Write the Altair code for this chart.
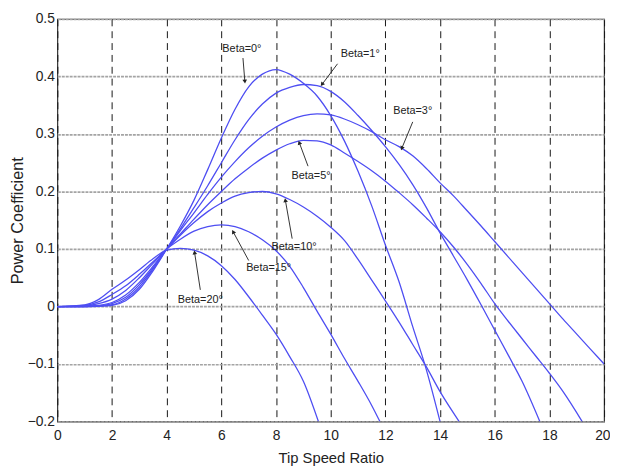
import math
import altair as alt
import pandas as pd

# ---- curve data (Tip Speed Ratio -> Power Coefficient) ----
x_b0 = [0, 1, 1.5, 2, 2.5, 3, 3.5, 4, 4.5, 5, 5.5, 6, 6.5, 7, 7.5, 8, 8.5, 9, 9.5, 10,
        10.5, 11, 11.5, 12, 12.5, 13, 13.5, 14]
y_b0 = [0, 0, 0.0005, 0.002, 0.01, 0.03, 0.062, 0.1, 0.14, 0.185, 0.238, 0.293, 0.343, 0.382,
        0.404, 0.412, 0.404, 0.388, 0.366, 0.332, 0.288, 0.235, 0.175, 0.107, 0.043, -0.035,
        -0.11, -0.2]

x_b1 = [0, 1, 1.5, 2, 2.5, 3, 3.5, 4, 4.5, 5, 5.5, 6, 6.5, 7, 7.5, 8, 8.5, 9, 9.5, 10,
        10.5, 11, 11.5, 12, 12.5, 13, 13.5, 14, 14.5, 15, 15.5, 16, 16.5, 17, 17.65]
y_b1 = [0, 0, 0.001, 0.003, 0.013, 0.034, 0.065, 0.1, 0.135, 0.172, 0.21, 0.25, 0.29, 0.325,
        0.352, 0.371, 0.381, 0.386, 0.384, 0.374, 0.356, 0.332, 0.306, 0.278, 0.247, 0.212,
        0.172, 0.128, 0.087, 0.046, 0.003, -0.041, -0.085, -0.13, -0.2]

x_b3 = [0, 1, 1.5, 2, 2.5, 3, 3.5, 4, 4.5, 5, 5.5, 6, 6.5, 7, 7.5, 8, 8.5, 9, 9.5, 10,
        10.5, 11, 11.5, 12, 12.5, 13, 13.5, 14, 14.5, 15, 15.5, 16, 16.5, 17, 17.5, 18,
        18.5, 19, 19.5, 20]
y_b3 = [0, 0, 0.001, 0.005, 0.016, 0.038, 0.067, 0.1, 0.132, 0.163, 0.195, 0.225, 0.252,
        0.276, 0.296, 0.312, 0.324, 0.332, 0.335, 0.333, 0.326, 0.316, 0.304, 0.29, 0.278,
        0.262, 0.24, 0.215, 0.192, 0.166, 0.14, 0.113, 0.086, 0.059, 0.032, 0.005, -0.022,
        -0.048, -0.074, -0.1]

x_b5 = [0, 1, 1.5, 2, 2.5, 3, 3.5, 4, 4.5, 5, 5.5, 6, 6.5, 7, 7.5, 8, 8.5, 9, 9.5, 10,
        10.5, 11, 11.5, 12, 12.5, 13, 13.5, 14, 14.5, 15, 15.5, 16, 16.5, 17, 17.5, 18,
        18.5, 19.2]
y_b5 = [0, 0.0005, 0.002, 0.007, 0.02, 0.042, 0.07, 0.1, 0.126, 0.152, 0.177, 0.2, 0.222,
        0.241, 0.258, 0.272, 0.283, 0.289, 0.288, 0.281, 0.267, 0.252, 0.236, 0.218, 0.198,
        0.177, 0.154, 0.13, 0.103, 0.073, 0.04, 0.005, -0.026, -0.056, -0.086, -0.116,
        -0.148, -0.2]

x_b10 = [0, 1, 1.5, 2, 2.5, 3, 3.5, 4, 4.5, 5, 5.5, 6, 6.5, 7, 7.5, 8, 8.5, 9, 9.5, 10,
         10.5, 11, 11.5, 12, 12.5, 13, 13.5, 14, 14.7]
y_b10 = [0, 0.001, 0.005, 0.013, 0.028, 0.05, 0.075, 0.1, 0.124, 0.146, 0.165, 0.18, 0.192,
         0.198, 0.2, 0.196, 0.186, 0.173, 0.157, 0.138, 0.115, 0.082, 0.046, 0.01, -0.027,
         -0.066, -0.105, -0.148, -0.2]

x_b15 = [0, 1, 1.5, 2, 2.5, 3, 3.5, 4, 4.5, 5, 5.5, 6, 6.5, 7, 7.5, 8, 8.5, 9, 9.5, 10,
         10.5, 11, 11.5, 11.8]
y_b15 = [0, 0.002, 0.008, 0.021, 0.036, 0.056, 0.078, 0.1, 0.117, 0.131, 0.139, 0.142,
         0.139, 0.13, 0.116, 0.097, 0.07, 0.033, -0.008, -0.048, -0.09, -0.13, -0.172, -0.2]

x_b20 = [0, 1, 1.5, 2, 2.5, 3, 3.5, 4, 4.5, 5, 5.5, 6, 6.5, 7, 7.5, 8, 8.5, 9, 9.55]
y_b20 = [0, 0.003, 0.012, 0.03, 0.046, 0.064, 0.083, 0.098, 0.101, 0.098, 0.088, 0.071,
         0.047, 0.017, -0.015, -0.048, -0.087, -0.13, -0.2]

betas = ["0", "1", "3", "5", "10", "15", "20"]
curves = [(x_b0, y_b0), (x_b1, y_b1), (x_b3, y_b3), (x_b5, y_b5),
          (x_b10, y_b10), (x_b15, y_b15), (x_b20, y_b20)]

# ---- annotations ----
ann_labels = ["Beta=0°", "Beta=1°", "Beta=3°", "Beta=5°", "Beta=10°", "Beta=15°", "Beta=20°"]
ann_text_x = [6.75, 11.08, 13.0, 9.28, 8.66, 7.73, 5.23]
ann_text_y = [0.448, 0.439, 0.340, 0.227, 0.103, 0.067, 0.012]
ann_from_x = [6.79, 10.25, 13.0, 9.17, 8.59, 7.0, 5.23]
ann_from_y = [0.432, 0.422, 0.321, 0.244, 0.118, 0.080, 0.029]
ann_to_x = [6.86, 9.68, 12.6, 8.85, 8.34, 6.43, 5.02]
ann_to_y = [0.391, 0.386, 0.275, 0.285, 0.185, 0.130, 0.094]

x_ticks = [0, 2, 4, 6, 8, 10, 12, 14, 16, 18, 20]
y_ticks = [-0.2, -0.1, 0, 0.1, 0.2, 0.3, 0.4, 0.5]

W, H = 554, 408
X_DOM = [0, 20]
Y_DOM = [-0.2, 0.5]
FONT = "Liberation Sans"

rows = []
for b, (xs_, ys_) in zip(betas, curves):
    for xv, yv in zip(xs_, ys_):
        rows.append({"beta": b, "x": xv, "y": yv})
df = pd.DataFrame(rows)

arr = pd.DataFrame({"x": ann_from_x, "y": ann_from_y, "x2": ann_to_x, "y2": ann_to_y})
# arrowhead direction in screen pixels (clockwise from up)
angs = []
for fx, fy, tx, ty in zip(ann_from_x, ann_from_y, ann_to_x, ann_to_y):
    dx = (tx - fx) * W / (X_DOM[1] - X_DOM[0])
    dy = -(ty - fy) * H / (Y_DOM[1] - Y_DOM[0])
    angs.append(math.degrees(math.atan2(dx, -dy)) % 360)
heads = pd.DataFrame({"x": ann_to_x, "y": ann_to_y, "ang": angs})
txt = pd.DataFrame({"x": ann_text_x, "y": ann_text_y, "label": ann_labels})

xs = alt.Scale(domain=X_DOM, nice=False, zero=False)
ys = alt.Scale(domain=Y_DOM, nice=False, zero=False)

x_axis = alt.Axis(values=x_ticks, title="Tip Speed Ratio", grid=True, gridColor="#151515",
                  gridDash=[7, 5], gridWidth=1, ticks=False, domain=False,
                  labelFontSize=14, labelFont=FONT, labelColor="#222", labelPadding=7,
                  labelFlush=False, labelAlign=alt.ExprRef(expr="datum.value == 20 ? 'right' : 'center'"),
                  labelOffset=alt.ExprRef(expr="datum.value == 20 ? 6 : 0"),
                  titleFont=FONT, titleFontSize=15,
                  titleFontWeight="normal", titleColor="#222", titleBaseline="alphabetic",
                  titleY=41)
y_axis = alt.Axis(values=y_ticks, title="Power Coefficient", grid=True, gridColor="#a4a4a4",
                  gridDash=[3, 1], gridWidth=1.6, ticks=False, domain=False,
                  labelExpr="datum.value == 0 ? '0' : format(datum.value, '.1f')",
                  labelFontSize=14, labelFont=FONT, labelColor="#222", labelPadding=3,
                  labelFlush=False, titleFont=FONT, titleFontSize=16.5,
                  titleFontWeight="normal", titleColor="#222", titleAngle=270,
                  titleBaseline="alphabetic", titleAlign="center", titleX=-35, titleY=204)

lines = alt.Chart(df).mark_line(color="#4e4ef2", strokeWidth=1.3, interpolate="monotone",
                                clip=True).encode(
    x=alt.X("x:Q", scale=xs, axis=x_axis),
    y=alt.Y("y:Q", scale=ys, axis=y_axis),
    detail="beta:N",
)

rules = alt.Chart(arr).mark_rule(color="#333", strokeWidth=1).encode(
    x=alt.X("x:Q", scale=xs), y=alt.Y("y:Q", scale=ys), x2="x2:Q", y2="y2:Q")

arrowheads = alt.Chart(heads).mark_point(shape="triangle-up", filled=True, size=22,
                                         color="#222", opacity=1).encode(
    x=alt.X("x:Q", scale=xs), y=alt.Y("y:Q", scale=ys),
    angle=alt.Angle("ang:Q", scale=None))

texts = alt.Chart(txt).mark_text(font=FONT, fontSize=11, color="#222", align="center",
                                 baseline="middle").encode(
    x=alt.X("x:Q", scale=xs), y=alt.Y("y:Q", scale=ys), text="label:N")

chart = alt.layer(lines, rules, arrowheads, texts).properties(
    width=W, height=H,
    autosize=alt.AutoSizeParams(type="none"),
    padding={"left": 50, "top": 8, "right": 6, "bottom": 46},
).configure_view(stroke="#333", strokeWidth=1.2)

chart.save("out.html", embed_options={"renderer": "svg", "actions": False})
